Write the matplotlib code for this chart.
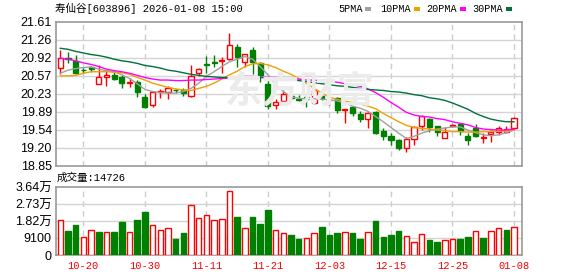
import numpy as np
import matplotlib
matplotlib.use("Agg")
import matplotlib.pyplot as plt

# ---- data ----
dates = ['10-15', '10-16', '10-17', '10-20', '10-21', '10-22', '10-23', '10-24', '10-27', '10-28',
         '10-29', '10-30', '10-31', '11-03', '11-04', '11-05', '11-06', '11-07', '11-10', '11-11',
         '11-12', '11-13', '11-14', '11-17', '11-18', '11-19', '11-20', '11-21', '11-24', '11-25',
         '11-26', '11-27', '11-28', '12-01', '12-02', '12-03', '12-04', '12-05', '12-08', '12-09',
         '12-10', '12-11', '12-12', '12-15', '12-16', '12-17', '12-18', '12-19', '12-22', '12-23',
         '12-24', '12-25', '12-26', '12-29', '12-30', '12-31', '01-05', '01-06', '01-07', '01-08']
tick_dates = ['10-20', '10-30', '11-11', '11-21', '12-03', '12-15', '12-25', '01-08']

opens = [20.73, 20.91, 20.86, 20.69, 20.74, 20.41, 20.55, 20.58, 20.54, 20.44,
         20.45, 20.16, 20.01, 20.26, 20.27, 20.30, 20.30, 20.19, 20.62, 20.79,
         20.83, 20.85, 20.89, 21.13, 20.84, 21.06, 20.81, 20.42, 20.01, 20.08,
         20.19, 20.12, 20.16, 20.05, 20.19, 20.10, 20.14, 19.91, 19.97, 19.84,
         19.74, 19.87, 19.52, 19.41, 19.33, 19.18, 19.36, 19.61, 19.74, 19.61,
         19.38, 19.60, 19.64, 19.42, 19.57, 19.38, 19.46, 19.50, 19.50, 19.57]
highs = [21.07, 21.02, 20.97, 20.73, 20.76, 20.77, 20.68, 20.68, 20.59, 20.52,
         20.49, 20.22, 20.27, 20.31, 20.37, 20.31, 20.33, 20.78, 20.72, 20.95,
         20.97, 20.93, 21.40, 21.18, 20.99, 21.12, 20.84, 20.51, 20.12, 20.30,
         20.38, 20.21, 20.17, 20.33, 20.22, 20.16, 20.17, 19.93, 20.00, 19.89,
         19.87, 19.89, 19.57, 19.47, 19.36, 19.39, 19.60, 19.82, 19.77, 19.61,
         19.59, 19.64, 19.65, 19.47, 19.65, 19.47, 19.53, 19.60, 19.61, 19.78]
lows = [20.61, 20.81, 20.61, 20.63, 20.65, 20.41, 20.38, 20.49, 20.34, 20.36,
        20.17, 19.95, 19.98, 20.15, 20.12, 20.24, 20.18, 20.17, 20.56, 20.62,
        20.75, 20.62, 20.88, 20.75, 20.75, 20.61, 20.46, 19.93, 19.93, 20.03,
        20.11, 20.08, 19.97, 20.03, 20.11, 20.01, 19.85, 19.66, 19.80, 19.69,
        19.57, 19.46, 19.34, 19.25, 19.15, 19.10, 19.25, 19.53, 19.50, 19.41,
        19.38, 19.58, 19.44, 19.25, 19.39, 19.28, 19.31, 19.44, 19.47, 19.54]
closes = [20.92, 20.89, 20.62, 20.68, 20.70, 20.54, 20.58, 20.51, 20.44, 20.46,
          20.27, 19.98, 20.27, 20.28, 20.33, 20.29, 20.24, 20.56, 20.70, 20.77,
          20.81, 20.88, 21.16, 20.93, 20.99, 20.84, 20.59, 20.00, 20.07, 20.23,
          20.14, 20.10, 20.13, 20.29, 20.14, 20.11, 19.91, 19.93, 19.86, 19.74,
          19.86, 19.47, 19.41, 19.33, 19.18, 19.36, 19.59, 19.80, 19.59, 19.49,
          19.50, 19.63, 19.52, 19.33, 19.41, 19.39, 19.49, 19.57, 19.55, 19.76]

ma5 = [20.62, 20.68, 20.71, 20.73, 20.74, 20.70, 20.67, 20.65, 20.59, 20.52,
       20.42, 20.31, 20.27, 20.25, 20.24, 20.24, 20.27, 20.33, 20.43, 20.56,
       20.65, 20.75, 20.84, 20.89, 20.94, 20.89, 20.75, 20.59, 20.40, 20.27,
       20.17, 20.14, 20.13, 20.13, 20.12, 20.11, 20.09, 20.05, 19.99, 19.95,
       19.89, 19.79, 19.69, 19.58, 19.47, 19.37, 19.41, 19.47, 19.52, 19.55,
       19.57, 19.59, 19.59, 19.53, 19.48, 19.44, 19.42, 19.44, 19.48, 19.53]
ma10 = [20.57, 20.57, 20.58, 20.62, 20.65, 20.65, 20.65, 20.64, 20.63, 20.60,
        20.54, 20.49, 20.43, 20.39, 20.35, 20.32, 20.30, 20.29, 20.33, 20.37,
        20.43, 20.51, 20.59, 20.66, 20.75, 20.80, 20.81, 20.78, 20.73, 20.66,
        20.60, 20.52, 20.43, 20.33, 20.24, 20.16, 20.12, 20.08, 20.06, 20.03,
        19.99, 19.94, 19.85, 19.77, 19.69, 19.62, 19.58, 19.56, 19.55, 19.53,
        19.52, 19.50, 19.50, 19.49, 19.49, 19.50, 19.50, 19.51, 19.51, 19.53]
ma20 = [20.91, 20.89, 20.86, 20.82, 20.79, 20.75, 20.70, 20.67, 20.65, 20.62,
        20.58, 20.54, 20.51, 20.49, 20.49, 20.48, 20.48, 20.49, 20.49, 20.50,
        20.51, 20.52, 20.53, 20.54, 20.56, 20.56, 20.55, 20.54, 20.54, 20.52,
        20.51, 20.51, 20.49, 20.49, 20.47, 20.46, 20.45, 20.42, 20.40, 20.37,
        20.32, 20.25, 20.16, 20.06, 19.97, 19.87, 19.82, 19.79, 19.78, 19.75,
        19.73, 19.69, 19.66, 19.63, 19.58, 19.55, 19.54, 19.53, 19.53, 19.55]
ma30 = [21.10, 21.08, 21.04, 21.01, 20.98, 20.96, 20.93, 20.89, 20.86, 20.84,
        20.81, 20.77, 20.75, 20.72, 20.68, 20.66, 20.63, 20.60, 20.58, 20.56,
        20.55, 20.54, 20.54, 20.54, 20.54, 20.54, 20.54, 20.53, 20.52, 20.51,
        20.50, 20.48, 20.46, 20.44, 20.42, 20.40, 20.38, 20.37, 20.35, 20.33,
        20.31, 20.30, 20.29, 20.27, 20.26, 20.24, 20.21, 20.19, 20.15, 20.13,
        20.10, 20.05, 19.99, 19.93, 19.85, 19.79, 19.74, 19.71, 19.69, 19.69]

volumes = [19000, 12790, 15980, 9590, 13140, 12250, 12250, 12250, 17580, 12080,
           18650, 22910, 15810, 13140, 14390, 8520, 11720, 27000, 19540, 21310,
           18470, 19180, 34100, 20250, 14390, 20250, 16520, 23980, 13140, 11540,
           10660, 8520, 9240, 11540, 14920, 10660, 11720, 12080, 11720, 8520,
           12080, 18120, 9590, 10660, 12790, 9950, 6750, 11010, 7990, 6930,
           7810, 8520, 8520, 9590, 12610, 9060, 12610, 14210, 13320, 14726]
vol_up = [1, 0, 0, 1, 1, 0, 1, 0, 0, 1,
          0, 0, 1, 1, 1, 0, 0, 1, 1, 1,
          1, 1, 1, 0, 1, 0, 0, 0, 1, 1,
          0, 0, 1, 1, 0, 0, 0, 1, 0, 0,
          1, 0, 0, 0, 0, 1, 1, 1, 0, 0,
          1, 1, 0, 0, 1, 0, 1, 1, 0, 1]

price_ticks = ['18.85', '19.20', '19.54', '19.89', '20.23', '20.57', '20.92', '21.26', '21.61']
vol_ticks = ['0', '9100', '1.82万', '2.73万', '3.64万']

RED = '#ff0000'
GREEN = '#008000'
FRAME = '#999999'
GRID = '#d4d4d4'
ma_colors = {'5PMA': '#a0a0a0', '10PMA': '#f0a000', '20PMA': '#ff00ff', '30PMA': '#00703c'}

W, H = 578, 276
fig = plt.figure(figsize=(W / 100, H / 100), dpi=100)


def fx(px):
    return px / W


def fy(py):
    return 1 - py / H


ax = fig.add_axes([fx(56), fy(165.5), fx(466), 143.8 / H])
axv = fig.add_axes([fx(56), fy(255), fx(466), 68 / H])

x = np.arange(len(dates))
o = np.array(opens)
c = np.array(closes)
up = c > o
body_w = 0.66
tick_idx = [dates.index(d) for d in tick_dates]

for a in (ax, axv):
    a.set_xlim(-0.56, 60.04)
    a.set_facecolor('white')
    for s in a.spines.values():
        s.set_color(FRAME)
        s.set_linewidth(1.2)
    a.tick_params(length=0, pad=3)
    for t in tick_idx:
        a.axvline(t, color='#cccccc', lw=1, ls=(0, (4, 3)), zorder=0)

# price chart
lo_p, hi_p = 18.85, 21.61
ax.set_ylim(lo_p, hi_p)
pt = np.linspace(lo_p, hi_p, len(price_ticks))
ax.set_yticks(pt)
ax.set_yticklabels(price_ticks, fontsize=9, family='Liberation Sans')
for v in pt[1:-1]:
    ax.axhline(v, color=GRID, lw=1, zorder=0)
ax.set_xticks([])

# watermark
fig.text(fx(300), fy(92), '东方财富', fontsize=27, color='#ebebeb', weight='bold',
         style='italic', ha='center', va='center', family='Noto Sans CJK SC', zorder=0)

cols = [RED if u else GREEN for u in up]
ax.vlines(x, lows, highs, colors=cols, lw=1, zorder=2)
heights = np.maximum(np.abs(c - o), 0.008)
ax.bar(x, heights, bottom=np.minimum(o, c), width=body_w,
       facecolor=['white' if u else GREEN for u in up], edgecolor=cols, lw=1, zorder=3)

for (name, col), vals in zip(ma_colors.items(), [ma5, ma10, ma20, ma30]):
    ax.plot(x, vals, color=col, lw=1, zorder=4)

# volume chart
axv.set_ylim(0, 36400)
vt = np.linspace(0, 36400, len(vol_ticks))
axv.set_yticks(vt)
axv.set_yticklabels(vol_ticks, fontsize=9, family=['Liberation Sans', 'Noto Sans CJK SC'])
for v in vt[1:-1]:
    axv.axhline(v, color=GRID, lw=1, zorder=0)
vcols = [RED if u else GREEN for u in vol_up]
axv.bar(x, volumes, width=0.72, facecolor=['white' if u else GREEN for u in vol_up],
        edgecolor=vcols, lw=1, zorder=3)
axv.set_xticks(tick_idx)
axv.set_xticklabels(tick_dates, fontsize=7.5, family='Liberation Mono', color=RED)
axv.tick_params(axis='x', pad=4)

# texts
mono_cjk = ['Liberation Mono', 'Noto Sans CJK SC']
fig.text(fx(55), fy(8), '寿仙谷[603896] 2026-01-08 15:00', fontsize=7.6, family=mono_cjk,
         va='center', ha='left')
fig.text(fx(57), fy(178), '成交量:' + str(volumes[-1]), fontsize=7.6, family=mono_cjk,
         va='center', ha='left')

leg_x = [338, 380, 426, 472]
for (name, col), lx in zip(ma_colors.items(), leg_x):
    fig.text(fx(lx), fy(9), name, fontsize=7.3, family='Liberation Mono', va='center', ha='left')
    sx = lx + len(name) * 6.1 + 3
    fig.patches.append(plt.Rectangle((fx(sx), fy(10.8)), fx(6), 3.4 / H, transform=fig.transFigure,
                                     facecolor=col, edgecolor='none'))

fig.savefig('out.png', dpi=100)
